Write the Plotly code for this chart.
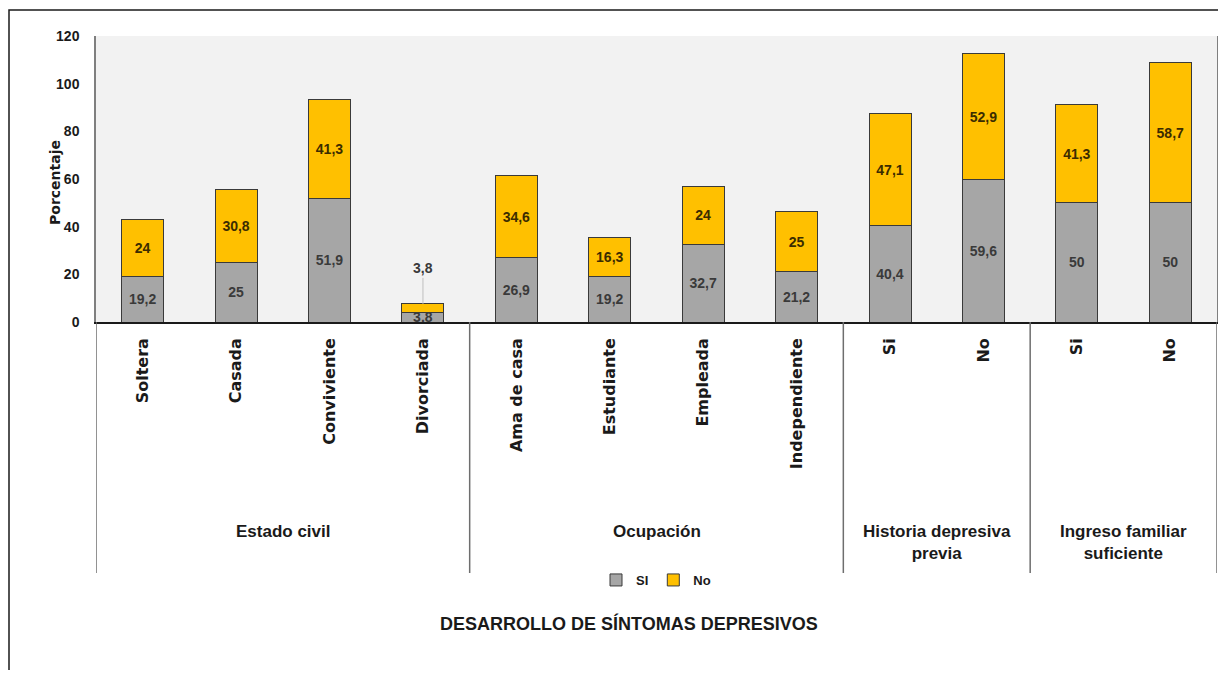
import plotly.graph_objects as go

categories = ["Soltera", "Casada", "Conviviente", "Divorciada",
              "Ama de casa", "Estudiante", "Empleada", "Independiente",
              "Si", "No", "Si", "No"]
groups = ["Estado civil", "Ocupación", "Historia depresiva<br>previa",
          "Ingreso familiar<br>suficiente"]
group_sizes = [4, 4, 2, 2]
si_values = [19.2, 25, 51.9, 3.8, 26.9, 19.2, 32.7, 21.2, 40.4, 59.6, 50, 50]
no_values = [24, 30.8, 41.3, 3.8, 34.6, 16.3, 24, 25, 47.1, 52.9, 41.3, 58.7]
y_ticks = [0, 20, 40, 60, 80, 100, 120]
series_names = ["SI", "No"]
x_title = "DESARROLLO DE SÍNTOMAS DEPRESIVOS"
y_title = "Porcentaje"

# page body has an 8px margin; figure coordinates = screen - 8
OX, OY = 8, 8
W, H = 1226 - 2 * OX, 679 - 2 * OY - 1
L, R, T, B = 96 - OX, 1217 - OX, 36 - OY, 322 - OY  # plot area in figure px


def px_to_paper(sx, sy):
    x, y = sx - OX, sy - OY
    return (x - L) / (R - L), (B - y) / (B - T)


def fmt(v):
    return f"{v:g}".replace(".", ",")


SANS = "Liberation Sans, Arial"
WIDE = "DejaVu Sans, Verdana"

xs = list(range(len(categories)))
small = [i for i, (a, b) in enumerate(zip(si_values, no_values)) if a + b < 10]

fig = go.Figure()
fig.add_trace(go.Bar(
    x=xs, y=si_values, name=series_names[0],
    marker=dict(color="#a6a6a6", line=dict(color="#3a3a3a", width=1)),
    text=[fmt(v) for v in si_values], textposition="inside",
    insidetextanchor="middle", textangle=0, constraintext="none",
    textfont=dict(family=SANS, size=14, color="#3a3a3a", weight="bold"),
    width=0.45,
))
fig.add_trace(go.Bar(
    x=xs, y=no_values, name=series_names[1],
    marker=dict(color="#ffc000", line=dict(color="#3a3a3a", width=1)),
    text=["" if i in small else fmt(v) for i, v in enumerate(no_values)],
    textposition="inside", insidetextanchor="middle", textangle=0,
    constraintext="none",
    textfont=dict(family=SANS, size=14, color="#3b2c00", weight="bold"),
    width=0.45,
))

annotations = []
for i in small:
    annotations.append(dict(
        x=xs[i], y=si_values[i] + no_values[i], xref="x", yref="y",
        text=f"<b>{fmt(no_values[i])}</b>", showarrow=True, arrowhead=0, arrowwidth=1,
        arrowcolor="#bfbfbf", ax=0, ay=-26, yanchor="bottom",
        font=dict(family=SANS, size=14, color="#3a3a3a"),
    ))

shapes = []
pos = -0.5
sep_bottom = px_to_paper(0, 573)[1]
shapes.append(dict(type="line", xref="x", yref="paper", x0=pos, x1=pos,
                   y0=0, y1=sep_bottom, line=dict(color="#6e6e6e", width=1.5)))
for g, n in zip(groups, group_sizes):
    center = pos + n / 2
    pos += n
    shapes.append(dict(type="line", xref="x", yref="paper", x0=pos, x1=pos,
                       y0=0, y1=sep_bottom, line=dict(color="#6e6e6e", width=1.5)))
    ytop = px_to_paper(0, 520)[1]
    annotations.append(dict(
        x=center, y=ytop, xref="x", yref="paper", text=f"<b>{g}</b>", showarrow=False,
        yanchor="top", font=dict(family=SANS, size=17, color="#1a1a1a"),
    ))

tx, ty = px_to_paper(629, 636)
annotations.append(dict(x=tx, y=ty, xref="paper", yref="paper", text=f"<b>{x_title}</b>",
                        showarrow=False, font=dict(family=SANS, size=18, color="#1a1a1a")))
tx, ty = px_to_paper(45, 183)
annotations.append(dict(x=tx, y=ty, xref="paper", yref="paper", text=f"<b>{y_title}</b>",
                        showarrow=False, textangle=-90,
                        font=dict(family=WIDE, size=14, color="#1a1a1a")))

fx0, fy0 = px_to_paper(9, 10)
fx1, fy1 = px_to_paper(1260, 720)
shapes.append(dict(type="rect", xref="paper", yref="paper", x0=fx0, x1=fx1,
                   y0=fy1, y1=fy0, line=dict(color="#1a1a1a", width=1.5), layer="below"))

lx, ly = px_to_paper(656, 580)

fig.update_layout(
    width=W, height=H,
    margin=dict(l=L, r=W - R, t=T, b=H - B, autoexpand=False),
    barmode="stack",
    paper_bgcolor="white",
    plot_bgcolor="#f2f2f2",
    showlegend=True,
    legend=dict(orientation="h", x=lx, y=ly, xanchor="center", yanchor="middle",
                traceorder="normal",
                font=dict(family=SANS, size=13, color="#1a1a1a", weight="bold"),
                itemwidth=30, bgcolor="rgba(0,0,0,0)"),
    uniformtext=dict(minsize=13, mode="show"),
    xaxis=dict(
        tickmode="array", tickvals=xs,
        ticktext=[f"<b>{c}</b>" for c in categories],
        tickangle=-90, range=[-0.5, len(categories) - 0.5],
        showline=True, linecolor="#1a1a1a", linewidth=1.5, mirror=False,
        showgrid=False, zeroline=False, ticks="",
        tickfont=dict(family=WIDE, size=16, color="#1a1a1a"),
        ticklabelstandoff=8,
    ),
    yaxis=dict(
        tickmode="array", tickvals=y_ticks, ticktext=[f"<b>{t}</b>" for t in y_ticks],
        range=[0, 120], showgrid=False, zeroline=False,
        showline=True, linecolor="#7f7f7f", linewidth=1.5, mirror=True,
        ticks="", ticklabelstandoff=12,
        tickfont=dict(family=SANS, size=14, color="#1a1a1a"),
    ),
    annotations=annotations,
    shapes=shapes,
)

fig.write_html("out.html")
